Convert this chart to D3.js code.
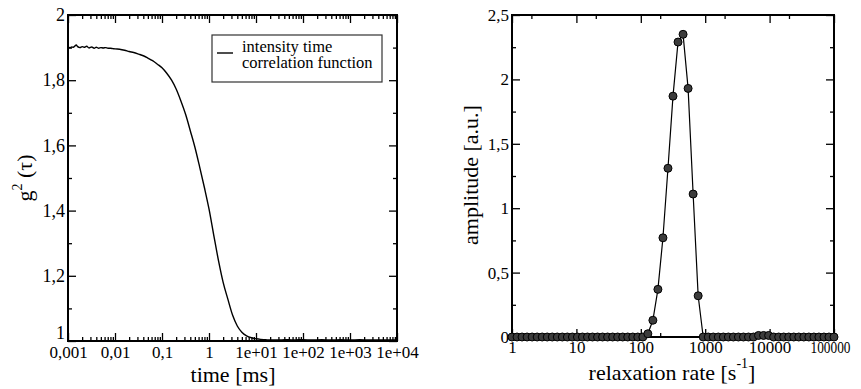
<!DOCTYPE html>
<html><head><meta charset="utf-8">
<script src="https://cdn.jsdelivr.net/npm/d3@7"></script>
</head>
<body style="margin:0">
<svg id="c" width="861" height="389" font-family="Liberation Serif"></svg>
<script>
// ---- Left panel: intensity time correlation function ----
const tauMs = [0.001,0.0011,0.0012,0.0013,0.0014,0.0015,0.0016,0.0018,0.002,0.0022,0.0025,0.0028,0.0032,0.0036,0.004,0.0045,0.005,0.0056,0.0063,0.0071,0.008,0.009,0.01,0.0125,0.016,0.02,0.025,0.032,0.04,0.05,0.063,0.08,0.1,0.125,0.16,0.2,0.25,0.32,0.4,0.5,0.63,0.8,1.0,1.25,1.6,2.0,2.5,3.2,4.0,5.0,6.3,8.0,10,12.5,16,20,25,32,40,50,63,80,100,160,250,400,630,1000,1600,2500,4000,6300,10000];
const g2 = [1.901,1.900,1.902,1.901,1.905,1.908,1.903,1.900,1.903,1.901,1.904,1.899,1.902,1.898,1.901,1.898,1.900,1.899,1.900,1.898,1.898,1.897,1.896,1.895,1.892,1.888,1.885,1.880,1.875,1.868,1.860,1.849,1.838,1.822,1.800,1.773,1.738,1.694,1.645,1.595,1.535,1.470,1.405,1.328,1.245,1.180,1.130,1.078,1.046,1.027,1.016,1.010,1.007,1.005,1.004,1.003,1.003,1.003,1.004,1.004,1.003,1.004,1.004,1.003,1.004,1.003,1.004,1.003,1.004,1.003,1.003,1.003,1.003];
const leftXTicks = [0.001,0.01,0.1,1,10,100,1000,10000];
const leftXLabels = ["0,001","0,01","0,1","1","1e+01","1e+02","1e+03","1e+04"];
const leftYTicks = [1,1.2,1.4,1.6,1.8,2];
const leftYLabels = ["1","1,2","1,4","1,6","1,8","2"];
const leftYMinor = [1.1,1.3,1.5,1.7,1.9];
const legendLines = ["intensity time","correlation function"];

// ---- Right panel: relaxation rate distribution ----
const rates = [1,1.197,1.433,1.715,2.054,2.459,2.943,3.523,4.217,5.048,6.043,7.234,8.660,10.37,12.41,14.86,17.78,21.29,25.48,30.50,36.52,43.71,52.33,62.64,74.99,89.77,107.5,128.6,154.0,184.4,220.7,264.2,316.2,378.6,453.2,542.5,649.4,777.4,930.6,1114,1334,1597,1911,2288,2738,3278,3924,4697,5623,6731,8058,9647,11548,13824,16548,19810,23714,28387,33982,40679,48697,58294,69783,83536,100000];
const amplitude = [0,0,0,0,0,0,0,0,0,0,0,0,0,0,0,0,0,0,0,0,0,0,0,0,0,0,0,0.025,0.13,0.37,0.77,1.31,1.87,2.29,2.35,1.93,1.11,0.32,0,0,0,0,0,0,0,0,0,0,0,0.012,0.012,0.012,0,0,0,0,0,0,0,0,0,0,0,0,0];
const rightXTicks = [1,10,100,1000,10000,100000];
const rightXLabels = ["1","10","100","1000","10000","100000"];
const rightXMinor = [2,20,200,2000,20000];
const rightYTicks = [0,0.5,1,1.5,2,2.5];
const rightYLabels = ["0","0,5","1","1,5","2","2,5"];
const rightYMinor = [0.25,0.75,1.25,1.75,2.25];

const svg = d3.select("#c");
const FF = "'Liberation Serif'";

function setFont(sel, size){
  sel.style("font-family", FF).style("font-size", size + "px").style("fill","#000");
}

function styleAxis(g, size){
  g.attr("font-family", null).attr("font-size", null);
  g.select(".domain").remove();
  g.selectAll("line").attr("stroke","#000").attr("stroke-width",1.3);
  setFont(g.selectAll("text"), size);
}

function panel(o){
  const x = d3.scaleLog().domain(o.xDomain).range([o.x0,o.x1]);
  const y = d3.scaleLinear().domain(o.yDomain).range([o.yBot,o.yTop]);
  const g = svg.append("g");
  const mk = (axisFn, scale, vals, tr) => {
    const a = g.append("g").attr("transform", tr)
      .call(axisFn(scale).tickValues(vals).tickSize(-o.minorLen).tickFormat(""));
    styleAxis(a, 10);
  };
  mk(d3.axisBottom, x, o.xMinor, `translate(0,${o.yBot})`);
  mk(d3.axisTop, x, o.xMinor, `translate(0,${o.yTop})`);
  mk(d3.axisLeft, y, o.yMinor, `translate(${o.x0},0)`);
  mk(d3.axisRight, y, o.yMinor, `translate(${o.x1},0)`);
  const bx = g.append("g").attr("transform",`translate(0,${o.yBot})`)
    .call(d3.axisBottom(x).tickValues(o.xTicks).tickSize(-o.majorLen).tickPadding(o.xPad)
      .tickFormat((d,i)=>o.xLabels[i]));
  styleAxis(bx, o.xFont);
  const tx = g.append("g").attr("transform",`translate(0,${o.yTop})`)
    .call(d3.axisTop(x).tickValues(o.xTicks).tickSize(-o.majorLen).tickFormat(""));
  styleAxis(tx, 10);
  const ly = g.append("g").attr("transform",`translate(${o.x0},0)`)
    .call(d3.axisLeft(y).tickValues(o.yTicks).tickSize(-o.majorLen).tickPadding(o.yPad)
      .tickFormat((d,i)=>o.yLabels[i]));
  styleAxis(ly, o.yFont);
  const ry = g.append("g").attr("transform",`translate(${o.x1},0)`)
    .call(d3.axisRight(y).tickValues(o.yTicks).tickSize(-o.majorLen).tickFormat(""));
  styleAxis(ry, 10);
  g.append("rect").attr("x",o.x0).attr("y",o.yTop).attr("width",o.x1-o.x0).attr("height",o.yBot-o.yTop)
    .attr("fill","none").attr("stroke","#000").attr("stroke-width",2);
  return {g,x,y,bx,ly};
}

// Left panel
const leftMinor = [];
leftXTicks.slice(0,-1).forEach(d=>{ for(let m=2;m<=9;m++) leftMinor.push(d*m); });
const L = panel({x0:68,x1:397,yTop:15,yBot:341,xDomain:[0.001,10000],yDomain:[1,2],
  xTicks:leftXTicks,xLabels:leftXLabels,xMinor:leftMinor,
  yTicks:leftYTicks,yLabels:leftYLabels,yMinor:leftYMinor,
  majorLen:8,minorLen:4,xPad:5,yPad:3,xFont:17,yFont:18});
// lift the bottom "1" so it does not touch "0,001"
L.ly.selectAll("text").filter(d=>d===1).attr("dy","-0.12em");
L.g.append("path").datum(tauMs.map((t,i)=>[t,g2[i]]))
  .attr("fill","none").attr("stroke","#000").attr("stroke-width",1.4)
  .attr("d", d3.line().curve(d3.curveMonotoneX).x(d=>L.x(d[0])).y(d=>L.y(d[1])));
// legend
const lg = L.g.append("g");
lg.append("rect").attr("x",212).attr("y",35).attr("width",170).attr("height",47)
  .attr("fill","#fff").attr("stroke","#333").attr("stroke-width",1.2);
lg.append("line").attr("x1",217).attr("x2",233).attr("y1",53).attr("y2",53).attr("stroke","#000").attr("stroke-width",1.4);
setFont(lg.selectAll("text.leg").data(legendLines).join("text").attr("class","leg")
  .attr("x",242).attr("y",(d,i)=>52+i*15.5).text(d=>d), 16.5);
// titles
setFont(svg.append("text").attr("x",233).attr("y",382).attr("text-anchor","middle").text("time [ms]"), 22);
const yt = svg.append("text").attr("transform","translate(32,178) rotate(-90)").attr("text-anchor","middle");
setFont(yt, 22);
yt.append("tspan").text("g");
yt.append("tspan").style("font-size","14px").attr("dy",-10).text("2");
yt.append("tspan").attr("dy",10).text(" (τ)");

// Right panel
const R = panel({x0:512,x1:834,yTop:15,yBot:337,xDomain:[1,100000],yDomain:[0,2.5],
  xTicks:rightXTicks,xLabels:rightXLabels,xMinor:rightXMinor,
  yTicks:rightYTicks,yLabels:rightYLabels,yMinor:rightYMinor,
  majorLen:8,minorLen:4,xPad:4,yPad:3,xFont:17,yFont:17});
R.bx.selectAll("text").filter((d)=>d===100000).attr("textLength",40).attr("lengthAdjust","spacingAndGlyphs").attr("dx",-4);
R.g.append("path").datum(rates.map((r,i)=>[r,amplitude[i]]))
  .attr("fill","none").attr("stroke","#000").attr("stroke-width",1.2)
  .attr("d", d3.line().x(d=>R.x(d[0])).y(d=>R.y(d[1])));
R.g.selectAll("circle.pt").data(rates.map((r,i)=>[r,amplitude[i]])).join("circle").attr("class","pt")
  .attr("cx",d=>R.x(d[0])).attr("cy",d=>R.y(d[1])).attr("r",4)
  .attr("fill","#3c3c3c").attr("stroke","#000").attr("stroke-width",1);
setFont(svg.append("text").attr("transform","translate(478,175) rotate(-90)").attr("text-anchor","middle")
  .text("amplitude [a.u.]"), 22);
const xt = svg.append("text").attr("x",672).attr("y",380).attr("text-anchor","middle");
setFont(xt, 22);
xt.append("tspan").text("relaxation rate [s");
xt.append("tspan").style("font-size","14px").attr("dy",-12).text("-1");
xt.append("tspan").attr("dy",12).text("]");
</script></body></html>
